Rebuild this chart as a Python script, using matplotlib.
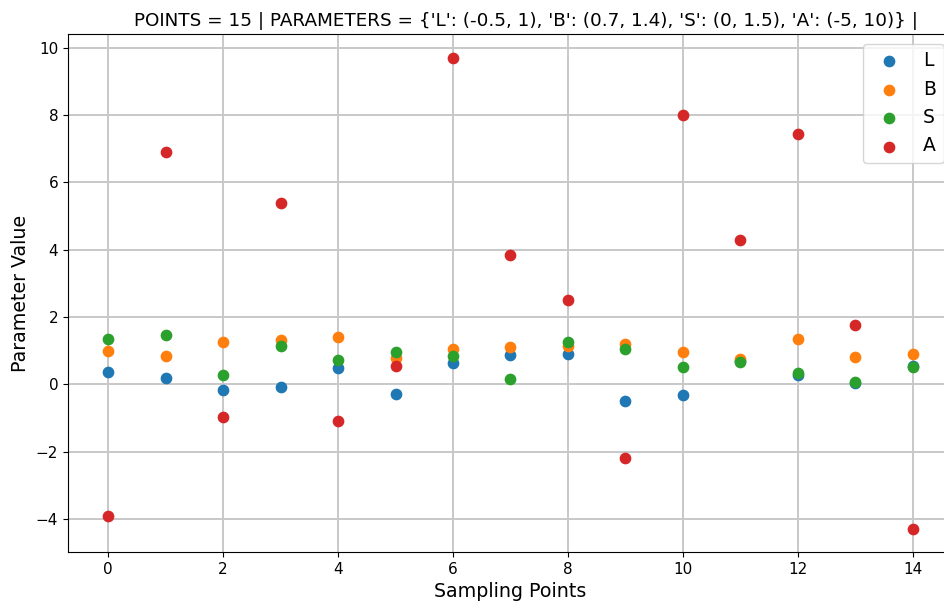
import matplotlib
matplotlib.use('Agg')
import matplotlib.pyplot as plt
import numpy as np

points = np.arange(15)
L = [0.35, 0.20, -0.16, -0.08, 0.48, -0.28, 0.64, 0.86, 0.91, -0.50, -0.31, 0.68, 0.27, 0.05, 0.55]
B = [0.99, 0.84, 1.25, 1.31, 1.39, 0.79, 1.06, 1.11, 1.15, 1.21, 0.97, 0.75, 1.33, 0.81, 0.91]
S = [1.34, 1.47, 0.27, 1.15, 0.72, 0.96, 0.84, 0.15, 1.25, 1.06, 0.52, 0.65, 0.34, 0.06, 0.50]
A = [-3.93, 6.90, -0.97, 5.38, -1.09, 0.55, 9.70, 3.84, 2.50, -2.20, 8.00, 4.29, 7.44, 1.75, -4.29]

title = "POINTS = 15 | PARAMETERS = {'L': (-0.5, 1), 'B': (0.7, 1.4), 'S': (0, 1.5), 'A': (-5, 10)} |"

fig = plt.figure(figsize=(9.44, 6.04), dpi=100)
ax = fig.add_axes([0.072, 0.086, 0.9375, 0.857])

for name, vals in [('L', L), ('B', B), ('S', S), ('A', A)]:
    ax.scatter(points, vals, s=55, label=name, zorder=3)

ax.set_title(title, fontsize=13.2, x=0.517)
ax.set_xlabel('Sampling Points', fontsize=13.7)
ax.set_ylabel('Parameter Value', fontsize=13.7)
ax.tick_params(labelsize=11)
ax.grid(True, color='#c8c8c8', linewidth=1.4)
ax.set_axisbelow(True)
ax.legend(loc='upper right', fontsize=13.5)

fig.savefig('out.png', dpi=100)
